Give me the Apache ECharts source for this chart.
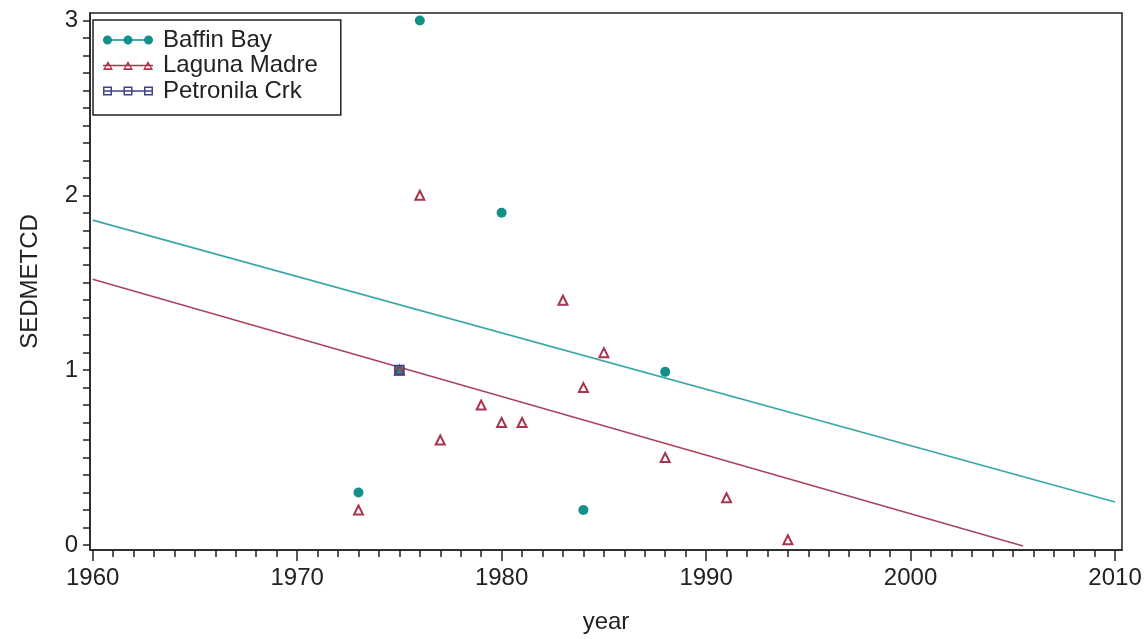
<!DOCTYPE html>
<html>
<head>
<meta charset="utf-8">
<script src="https://cdn.jsdelivr.net/npm/echarts@6/dist/echarts.min.js"></script>
<style>
html,body{margin:0;padding:0;background:#fff;}
#chart{width:1147px;height:639px;}
</style>
</head>
<body>
<div id="chart"></div>
<script>
// ---- data ----
const seriesNames = ['Baffin Bay', 'Laguna Madre', 'Petronila Crk'];
const baffinYear = [1973, 1975, 1976, 1980, 1984, 1988];
const baffinValue = [0.3, 1.0, 3.0, 1.9, 0.2, 0.99];
const lagunaYear = [1973, 1975, 1976, 1977, 1979, 1980, 1981, 1983, 1984, 1985, 1988, 1991, 1994];
const lagunaValue = [0.2, 1.0, 2.0, 0.6, 0.8, 0.7, 0.7, 1.4, 0.9, 1.1, 0.5, 0.27, 0.03];
const petronilaYear = [1975];
const petronilaValue = [1.0];
const baffinFitYear = [1960, 2010];
const baffinFitValue = [1.858, 0.246];
const lagunaFitYear = [1960, 2005.5];
const lagunaFitValue = [1.52, -0.006];
const xTickLabels = [1960, 1970, 1980, 1990, 2000, 2010];
const yTickLabels = [0, 1, 2, 3];

// ---- helpers ----
function pairs(xs, ys) { return xs.map((x, i) => [x, ys[i]]); }
const minorYears = [];
for (let y = 1960; y <= 2010; y++) minorYears.push(y);
const yTicks = [];
for (let i = 0; i <= 30; i++) yTicks.push(i / 10);

const TEAL = '#12908A';
const TEAL_LINE = '#3AA7A7';
const MAROON = '#A8344E';
const MAROON_LINE = '#A8455C';
const NAVY = '#40408C';
const FONT = 'Liberation Sans, Arial, sans-serif';
const TXT = '#222';

// legend icons (50 x 9 px, line with three markers)
function lineRect() { return 'M0 3.8 L50 3.8 L50 5.2 L0 5.2 Z '; }
function circleIcon() {
  let p = lineRect();
  [4.5, 25, 45.5].forEach(c => {
    p += 'M' + (c - 4.5) + ' 4.5 A4.5 4.5 0 1 1 ' + (c + 4.5) + ' 4.5 A4.5 4.5 0 1 1 ' + (c - 4.5) + ' 4.5 Z ';
  });
  return 'path://' + p;
}
function triangleIcon() {
  let p = lineRect();
  [5, 25, 45].forEach(c => {
    p += 'M' + c + ' 0 L' + (c + 5) + ' 9 L' + (c - 5) + ' 9 Z ';
    p += 'M' + c + ' 3.2 L' + (c - 2.8) + ' 7.3 L' + (c + 2.8) + ' 7.3 Z ';
  });
  return 'path://' + p;
}
function squareIcon() {
  let p = lineRect();
  [4.5, 25, 45.5].forEach(c => {
    p += 'M' + (c - 4.5) + ' 0 L' + (c + 4.5) + ' 0 L' + (c + 4.5) + ' 9 L' + (c - 4.5) + ' 9 Z ';
    p += 'M' + (c - 3) + ' 1.5 L' + (c - 3) + ' 7.5 L' + (c + 3) + ' 7.5 L' + (c + 3) + ' 1.5 Z ';
  });
  return 'path://' + p;
}

const xMin = 1959.87, xMax = 2010.34;
const yMin = -0.029, yMax = 3.043;

const chart = echarts.init(document.getElementById('chart'), null, {renderer: 'canvas'});
chart.setOption({
  backgroundColor: '#fff',
  animation: false,
  textStyle: {fontFamily: FONT, color: TXT},
  grid: {left: 90, right: 25, top: 13, bottom: 89, show: true, borderColor: '#222', borderWidth: 1.5, containLabel: false},
  legend: {
    orient: 'vertical', left: 93, top: 20,
    padding: [8, 23, 12, 10],
    itemWidth: 50, itemHeight: 9, itemGap: 1.5,
    borderColor: '#222', borderWidth: 1.5, backgroundColor: '#fff',
    selectedMode: false,
    textStyle: {fontFamily: FONT, fontSize: 24, color: TXT, lineHeight: 24, padding: [0, 0, 0, 5]},
    data: [
      {name: seriesNames[0], icon: circleIcon(), itemStyle: {color: TEAL, borderWidth: 0}},
      {name: seriesNames[1], icon: triangleIcon(), itemStyle: {color: MAROON, borderWidth: 0}},
      {name: seriesNames[2], icon: squareIcon(), itemStyle: {color: NAVY, borderWidth: 0}}
    ]
  },
  xAxis: [
    {
      type: 'value', min: xMin, max: xMax, position: 'bottom',
      name: 'year', nameLocation: 'middle', nameGap: 60,
      nameTextStyle: {fontFamily: FONT, fontSize: 24, color: TXT},
      axisLine: {show: true, onZero: false, lineStyle: {color: '#222', width: 1.5}},
      axisTick: {show: true, customValues: xTickLabels, length: 11, lineStyle: {color: '#222', width: 1.5}},
      axisLabel: {show: true, customValues: xTickLabels, fontFamily: FONT, fontSize: 24, color: TXT, margin: 16,
                  formatter: v => String(Math.round(v))},
      splitLine: {show: false}
    },
    {
      type: 'value', min: xMin, max: xMax, position: 'bottom',
      axisLine: {show: false, onZero: false},
      axisTick: {show: true, customValues: minorYears, length: 7, lineStyle: {color: '#222', width: 1.5}},
      axisLabel: {show: false},
      splitLine: {show: false}
    }
  ],
  yAxis: [
    {
      type: 'value', min: yMin, max: yMax, position: 'left',
      name: 'SEDMETCD', nameLocation: 'middle', nameGap: 48,
      nameTextStyle: {fontFamily: FONT, fontSize: 24, color: TXT},
      axisLine: {show: true, onZero: false, lineStyle: {color: '#222', width: 1.5}},
      axisTick: {show: true, customValues: yTicks, length: 7, lineStyle: {color: '#222', width: 1.5}},
      axisLabel: {show: true, customValues: yTickLabels, fontFamily: FONT, fontSize: 24, color: TXT, margin: 12,
                  formatter: v => String(Math.round(v))},
      splitLine: {show: false}
    }
  ],
  series: [
    {
      name: 'Baffin Bay fit', type: 'line', xAxisIndex: 0, yAxisIndex: 0,
      data: pairs(baffinFitYear, baffinFitValue), showSymbol: false, symbol: 'none',
      lineStyle: {color: TEAL_LINE, width: 1.6}, itemStyle: {color: TEAL_LINE}, z: 2, silent: true
    },
    {
      name: 'Laguna Madre fit', type: 'line', xAxisIndex: 0, yAxisIndex: 0,
      data: pairs(lagunaFitYear, lagunaFitValue), showSymbol: false, symbol: 'none',
      lineStyle: {color: MAROON_LINE, width: 1.6}, itemStyle: {color: MAROON_LINE}, z: 2, silent: true
    },
    {
      name: seriesNames[0], type: 'scatter', xAxisIndex: 0, yAxisIndex: 0,
      data: pairs(baffinYear, baffinValue), symbol: 'circle', symbolSize: 10,
      itemStyle: {color: TEAL, opacity: 1}, z: 3
    },
    {
      name: seriesNames[1], type: 'scatter', xAxisIndex: 0, yAxisIndex: 0,
      data: pairs(lagunaYear, lagunaValue), symbol: 'triangle', symbolSize: [9, 9],
      itemStyle: {color: 'rgba(255,255,255,0)', borderColor: MAROON, borderWidth: 2, opacity: 1}, z: 4
    },
    {
      name: seriesNames[2], type: 'scatter', xAxisIndex: 0, yAxisIndex: 0,
      data: pairs(petronilaYear, petronilaValue), symbol: 'rect', symbolSize: 9,
      itemStyle: {color: 'rgba(255,255,255,0)', borderColor: NAVY, borderWidth: 1.6, opacity: 1}, z: 5
    }
  ]
});
</script>
</body>
</html>
